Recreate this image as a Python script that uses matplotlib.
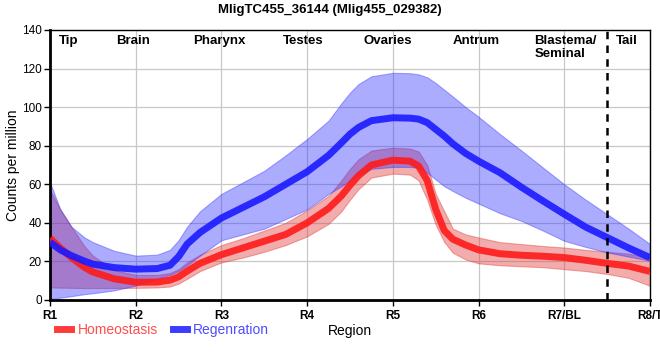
import numpy as np
import matplotlib.pyplot as plt
from matplotlib.lines import Line2D

plt.rcParams['font.family'] = ['Liberation Sans', 'DejaVu Sans']

# positions along the body (1 = R1 ... 8 = R8/T)
pos = [1, 1.12, 1.25, 1.4, 1.5, 1.75, 2, 2.25, 2.4, 2.5, 2.6, 2.75, 3, 3.25, 3.5, 3.75,
       4, 4.25, 4.4, 4.5, 4.6, 4.75, 5, 5.2, 5.3, 5.4, 5.5, 5.6, 5.7, 5.85,
       6, 6.25, 6.5, 6.75, 7, 7.25, 7.5, 7.75, 8]

homeo_mean = [32, 27, 22, 17, 14.5, 11, 9.2, 9.3, 10.3, 12, 15, 19, 23.5, 27, 30.5, 34,
              40, 47.5, 54, 59.5, 64.5, 70, 72.5, 72, 69.5, 62, 47, 36, 31.5, 28.5,
              26, 24, 23.2, 22.7, 22, 20.6, 19, 17.6, 14.8]
homeo_hi = [57, 47, 38, 28, 23, 15.5, 13, 13, 14, 16, 19.5, 23.5, 28.5, 32, 36, 40,
            46.5, 54, 62, 68, 73, 77.5, 79, 78.5, 77, 70, 55, 46, 37, 34,
            32.4, 30, 29, 28, 27.2, 26, 25, 24, 22]
homeo_lo = [6.5, 6.4, 6.3, 6.2, 6.2, 6.2, 6.3, 6.5, 7, 8.5, 11, 15, 19.5, 22, 25, 28.5,
            33, 39.5, 46, 52, 57.5, 63.5, 65.5, 65, 62, 52, 39, 30, 24.5, 21,
            19, 18, 17.5, 17, 16, 15, 13.5, 11.5, 7.4]

regen_mean = [30, 26, 23, 20.2, 18.6, 16.8, 16, 16.3, 18, 22.5, 29, 35, 42.5, 48, 53.5, 60,
              66.5, 75, 81.5, 86, 89.5, 93, 94.5, 94.3, 93.8, 92, 88.5, 85, 81, 76,
              72, 66, 58.5, 51.4, 44.5, 37.8, 32.4, 27, 22]
regen_hi = [61, 47, 38, 32.5, 30, 25.5, 23, 23.5, 26, 31, 38, 46, 55, 61, 67, 75,
            83.5, 93, 102, 107.5, 112, 116, 117.8, 117.6, 117, 115.5, 112.5, 109, 105.5, 100,
            95, 86, 77.5, 68.7, 60, 52, 44.5, 37, 29]
regen_lo = [0.5, 1.2, 2, 3, 3.5, 5, 7.5, 11, 13, 15, 18, 23, 31, 34, 37, 42,
            47, 55, 59, 62, 65, 68, 69, 69, 68.5, 66, 62.5, 59, 56.5, 53,
            50, 45, 41, 36, 30.7, 27.5, 24.7, 22.5, 20.4]

tick_pos = [1, 2, 3, 4, 5, 6, 7, 8]
tick_labels = ['R1', 'R2', 'R3', 'R4', 'R5', 'R6', 'R7/BL', 'R8/T']

region_names = ['Tip', 'Brain', 'Pharynx', 'Testes', 'Ovaries', 'Antrum', 'Blastema/\nSeminal', 'Tail']
region_pos = [1.22, 1.97, 2.97, 3.95, 4.94, 5.97, 6.65, 7.73]

red = '#ff1a1a'
blue = '#1a1aff'

fig = plt.figure(figsize=(6.6, 3.6), dpi=100)
ax = fig.add_axes([50 / 660, 60 / 360, 600 / 660, 270 / 360])

ax.fill_between(pos, homeo_lo, homeo_hi, color='#e03030', alpha=0.4, lw=0.8, zorder=2)
ax.fill_between(pos, regen_lo, regen_hi, color='#3030ff', alpha=0.4, lw=0.8, zorder=2)
ax.plot(pos, homeo_mean, color=red, lw=5, alpha=0.9, solid_capstyle='butt',
        solid_joinstyle='round', zorder=3)
ax.plot(pos, regen_mean, color=blue, lw=5, alpha=0.9, solid_capstyle='butt',
        solid_joinstyle='round', zorder=3)

ax.axvline(7.5, color='black', lw=1.8, ls=(0, (3, 2.5)), zorder=4)

ax.set_xlim(1, 8)
ax.set_ylim(0, 140)
ax.set_xticks(tick_pos)
ax.set_xticklabels(tick_labels, fontweight='bold', fontsize=8.5)
ax.set_yticks(np.arange(0, 141, 20))
ax.tick_params(axis='y', labelsize=8.5, length=4, width=1, pad=2)
ax.tick_params(axis='x', length=4, width=1, pad=3)
ax.grid(True, color='#c8c8c8', lw=0.9, zorder=0)
ax.set_axisbelow(True)

for s in ['left', 'bottom']:
    ax.spines[s].set_linewidth(2)
for s in ['top', 'right']:
    ax.spines[s].set_linewidth(1)

for name, p in zip(region_names, region_pos):
    ha = 'left' if '/' in name else 'center'
    ax.text(p, 137.5, name, ha=ha, va='top', fontsize=9.5, fontweight='bold',
            linespacing=1.1, zorder=5)

ax.set_ylabel('Counts per million', fontsize=10, labelpad=1)
ax.set_xlabel('Region', fontsize=10, labelpad=2)
fig.suptitle('MligTC455_36144 (Mlig455_029382)', fontsize=9.5, fontweight='bold',
             x=0.5, y=0.99)

handles = [Line2D([], [], color=red, lw=5, alpha=0.85),
           Line2D([], [], color=blue, lw=5, alpha=0.85)]
fig.legend(handles, ['Homeostasis', 'Regenration'], loc='lower left',
           bbox_to_anchor=(0.068, 0.03), ncol=2, frameon=False, fontsize=10,
           handlelength=1.0, handletextpad=0.45, columnspacing=1.1,
           labelcolor=['#ff4d4d', '#4d4dff'])

fig.savefig('out.png', dpi=100)
